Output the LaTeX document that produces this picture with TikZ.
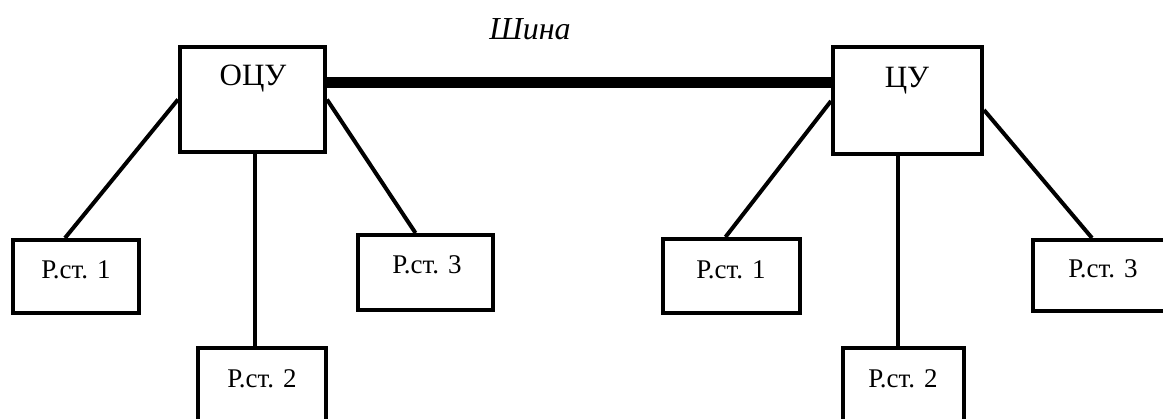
\documentclass[tikz,border=0pt]{standalone}
\usepackage{fontspec}
\setmainfont{Liberation Serif}
\begin{document}
\begin{tikzpicture}[x=1pt,y=-1pt,
  box/.style={draw=black, line width=4pt, fill=white, inner sep=0pt},
  big/.style={font=\fontsize{31}{31}\selectfont, inner sep=0pt},
  small/.style={font=\fontsize{27}{27}\selectfont, inner sep=0pt},
  wire/.style={line width=4pt},
  bus/.style={line width=11pt}]
\useasboundingbox (0,0) rectangle (1163,419);
\clip (0,0) rectangle (1163,419);
% main units
\node[box, minimum width=145pt, minimum height=105pt] (ocu) at (252.5,99.5) {};
\node[box, minimum width=149pt, minimum height=107pt] (cu) at (907.5,101) {};
% left stations
\node[box, minimum width=126pt, minimum height=73pt] (ls1) at (76,276.5) {};
\node[box, minimum width=128pt, minimum height=90pt] (ls2) at (262,393) {};
\node[box, minimum width=135pt, minimum height=75pt] (ls3) at (425.5,272.5) {};
% right stations
\node[box, minimum width=137pt, minimum height=74pt] (rs1) at (731.5,276) {};
\node[box, minimum width=121pt, minimum height=90pt] (rs2) at (903.5,393) {};
\node[box, minimum width=160pt, minimum height=71pt] (rs3) at (1113,275.5) {};
% texts
\node[big] (ocut) at (253,79) {ОЦУ};
\node[big] (cut) at (907,81) {ЦУ};
\node[big, font=\fontsize{32}{32}\selectfont\itshape] (bust) at (530,29) {Шина};
\node[small] (ls1t) at (76,270) {Р.ст. 1};
\node[small] (ls2t) at (262,379) {Р.ст. 2};
\node[small] (ls3t) at (427,265) {Р.ст. 3};
\node[small] (rs1t) at (731,270) {Р.ст. 1};
\node[small] (rs2t) at (903,379) {Р.ст. 2};
\node[small] (rs3t) at (1103,269) {Р.ст. 3};
% bus
\draw[bus] ([yshift=16.5pt]ocu.east) -- ([yshift=16.5pt]ocu.east -| cu.west);
% connectors left
\draw[wire] (ocu.west) -- ([xshift=-11pt]ls1.north);
\draw[wire] ([xshift=2.5pt]ocu.south) -- ([xshift=2.5pt]ocu.south |- ls2.north);
\draw[wire] (ocu.east) -- ([xshift=-10pt]ls3.north);
% connectors right
\draw[wire] (cu.west) -- ([xshift=-6pt]rs1.north);
\draw[wire] ([xshift=-9.5pt]cu.south) -- ([xshift=-9.5pt]cu.south |- rs2.north);
\draw[wire] ([yshift=-9pt]cu.east) -- ([xshift=-21pt]rs3.north);
\end{tikzpicture}
\end{document}
